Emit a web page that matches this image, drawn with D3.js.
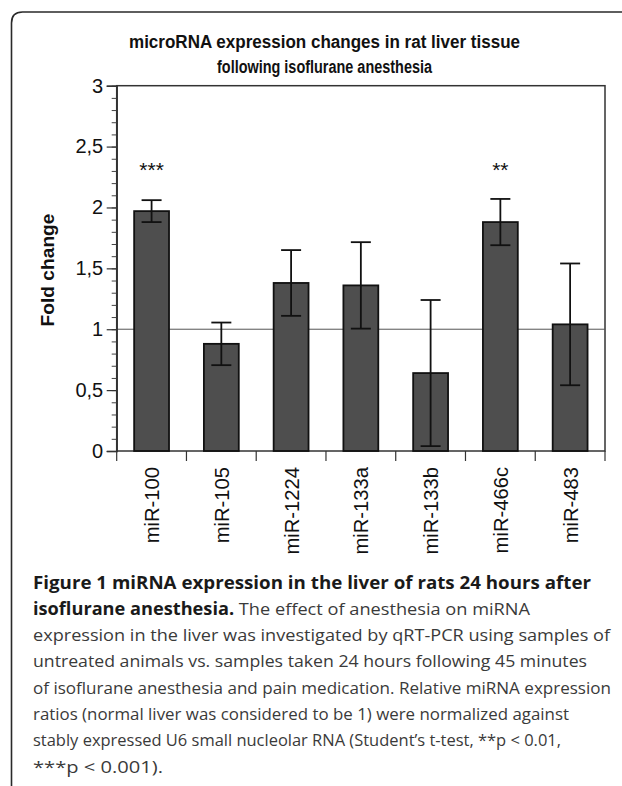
<!DOCTYPE html>
<html>
<head>
<meta charset="utf-8">
<script src="https://cdn.jsdelivr.net/npm/d3@7"></script>
<style>
  html, body { margin: 0; padding: 0; background: #fff; }
  svg { display: block; }
</style>
</head>
<body>
<svg id="chart" width="622" height="786"></svg>
<script>
// ---- Data ----
const categories = ["miR-100", "miR-105", "miR-1224", "miR-133a", "miR-133b", "miR-466c", "miR-483"];
const foldChange = [1.97, 0.88, 1.38, 1.36, 0.64, 1.88, 1.04];
const errorSD    = [0.09, 0.175, 0.27, 0.355, 0.60, 0.19, 0.50];
const significance = ["***", "", "", "", "", "**", ""];
const yTicks = [0, 0.5, 1, 1.5, 2, 2.5, 3];
const yTickLabels = ["0", "0,5", "1", "1,5", "2", "2,5", "3"];
const titleLines = ["microRNA expression changes in rat liver tissue", "following isoflurane anesthesia"];
const yLabel = "Fold change";
const captionLines = [
  [{t: "Figure 1 miRNA expression in the liver of rats 24 hours after", b: true}],
  [{t: "isoflurane anesthesia.", b: true}, {t: " The effect of anesthesia on miRNA", b: false}],
  [{t: "expression in the liver was investigated by qRT-PCR using samples of", b: false}],
  [{t: "untreated animals vs. samples taken 24 hours following 45 minutes", b: false}],
  [{t: "of isoflurane anesthesia and pain medication. Relative miRNA expression", b: false}],
  [{t: "ratios (normal liver was considered to be 1) were normalized against", b: false}],
  [{t: "stably expressed U6 small nucleolar RNA (Student\u2019s t-test, **p < 0.01,", b: false}],
  [{t: "***p < 0.001).", b: false}]
];

const data = categories.map((c, i) => ({cat: c, v: foldChange[i], e: errorSD[i], s: significance[i]}));

// ---- Layout ----
const svg = d3.select("#chart");
const plot = {left: 116.7, right: 605, top: 85.7, bottom: 451};
const axisFont = "'Liberation Sans', Arial, Helvetica, sans-serif";

const x = d3.scaleBand().domain(categories).range([plot.left, plot.right]).paddingInner(0.5).paddingOuter(0.25);
const y = d3.scaleLinear().domain([0, 3]).range([plot.bottom, plot.top]);

// outer rounded border (open on right/bottom)
svg.append("path")
  .attr("d", "M11.5,786 V23 Q11.5,12 22.5,12 H622")
  .attr("fill", "none").attr("stroke", "#2a2a2a").attr("stroke-width", 1.6);

// Title
const titleWidths = [391, 215];
svg.append("g").selectAll("text").data(titleLines).join("text")
  .attr("x", 324.5).attr("y", (d, i) => 47.5 + i * 25.2)
  .attr("text-anchor", "middle")
  .attr("font-family", axisFont).attr("font-weight", "bold").attr("font-size", 18.8)
  .attr("textLength", (d, i) => titleWidths[i]).attr("lengthAdjust", "spacingAndGlyphs")
  .attr("fill", "#111").text(d => d);

// plot frame
svg.append("rect")
  .attr("x", plot.left).attr("y", plot.top)
  .attr("width", plot.right - plot.left).attr("height", plot.bottom - plot.top)
  .attr("fill", "none").attr("stroke", "#333").attr("stroke-width", 1.5);

// reference line at 1
svg.append("line")
  .attr("x1", plot.left).attr("x2", plot.right)
  .attr("y1", y(1)).attr("y2", y(1))
  .attr("stroke", "#555").attr("stroke-width", 1);

// Y axis: minor ticks
const minor = d3.range(0, 3.0001, 0.1);
svg.append("g").attr("transform", `translate(${plot.left},0)`)
  .call(d3.axisLeft(y).tickValues(minor).tickSize(5).tickFormat(""))
  .call(g => g.select(".domain").remove())
  .call(g => g.selectAll("line").attr("stroke", "#444").attr("stroke-width", 1));

// Y axis: major ticks + labels
svg.append("g").attr("transform", `translate(${plot.left},0)`)
  .call(d3.axisLeft(y).tickValues(yTicks).tickSize(10).tickPadding(3.5)
    .tickFormat((d, i) => yTickLabels[i]))
  .call(g => g.select(".domain").attr("stroke", "#333").attr("stroke-width", 1.5))
  .call(g => g.selectAll("line").attr("stroke", "#333").attr("stroke-width", 1.2))
  .call(g => g.selectAll("text").attr("font-family", axisFont).attr("font-size", 20).attr("fill", "#111"));

// X axis ticks at band boundaries
const bounds = categories.map(c => x(c) - x.step() * x.paddingInner() / 2).concat([plot.right]);
svg.append("g").selectAll("line").data(bounds).join("line")
  .attr("x1", d => d).attr("x2", d => d)
  .attr("y1", plot.bottom).attr("y2", plot.bottom + 10)
  .attr("stroke", "#333").attr("stroke-width", 1.2);

// X labels rotated
svg.append("g").selectAll("text").data(categories).join("text")
  .attr("transform", d => `translate(${x(d) + x.bandwidth() / 2 + 7.5},467) rotate(-90)`)
  .attr("text-anchor", "end")
  .attr("font-family", axisFont).attr("font-size", 20.2).attr("fill", "#111")
  .text(d => d);

// Bars
svg.append("g").selectAll("rect").data(data).join("rect")
  .attr("x", d => x(d.cat)).attr("y", d => y(d.v))
  .attr("width", x.bandwidth()).attr("height", d => y(0) - y(d.v))
  .attr("fill", "#4e4e4e").attr("stroke", "#111").attr("stroke-width", 1.8);

// Error bars
const eb = svg.append("g").attr("stroke", "#111").attr("stroke-width", 1.8);
data.forEach(d => {
  const cx = x(d.cat) + x.bandwidth() / 2;
  eb.append("line").attr("x1", cx).attr("x2", cx).attr("y1", y(d.v + d.e)).attr("y2", y(d.v - d.e));
  eb.append("line").attr("x1", cx - 10).attr("x2", cx + 10).attr("y1", y(d.v + d.e)).attr("y2", y(d.v + d.e));
  eb.append("line").attr("x1", cx - 10).attr("x2", cx + 10).attr("y1", y(d.v - d.e)).attr("y2", y(d.v - d.e));
});

// Significance stars
svg.append("g").selectAll("text").data(data.filter(d => d.s)).join("text")
  .attr("x", d => x(d.cat) + x.bandwidth() / 2)
  .attr("y", y(2.35) + 12)
  .attr("text-anchor", "middle")
  .attr("font-family", axisFont).attr("font-size", 21).attr("fill", "#111")
  .text(d => d.s);

// Y label
svg.append("text")
  .attr("transform", `translate(${47 + 7},270) rotate(-90)`)
  .attr("text-anchor", "middle")
  .attr("font-family", axisFont).attr("font-weight", "bold").attr("font-size", 19.2)
  .attr("fill", "#111").text(yLabel);

// Caption
const captionWidths = [558, 497, 577, 554, 578, 536, 528, 130];
const cap = svg.append("g").attr("font-family", "'Open Sans', 'Noto Sans', sans-serif").attr("font-size", 17);
captionLines.forEach((line, i) => {
  const t = cap.append("text").attr("x", 33).attr("y", 588.5 + i * 26.3)
    .attr("textLength", captionWidths[i]).attr("lengthAdjust", "spacingAndGlyphs");
  line.forEach(seg => {
    t.append("tspan")
      .attr("font-weight", seg.b ? "bold" : "normal")
      .attr("fill", seg.b ? "#1a1a1a" : "#3a3a3a")
      .text(seg.t);
  });
});
</script>
</body>
</html>
